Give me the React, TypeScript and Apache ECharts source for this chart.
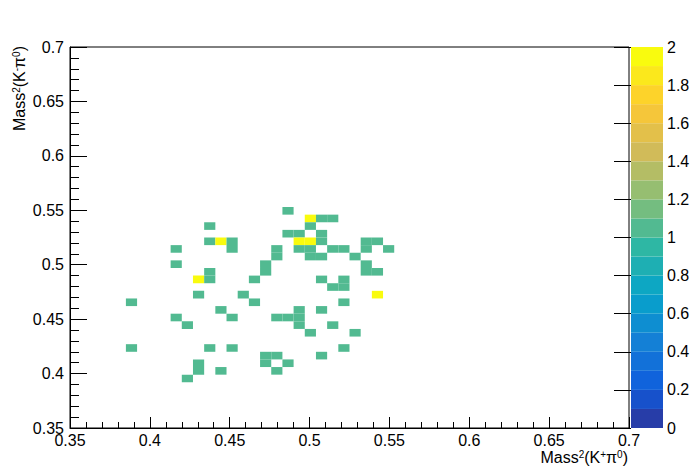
import React, { useEffect, useRef } from "react";
import * as echarts from "echarts";

// Histogram definition (TH2, 50 x 50 bins)
const xMin = 0.35;
const xMax = 0.7;
const yMin = 0.35;
const yMax = 0.7;
const nBinsX = 50;
const nBinsY = 50;
const axisStep = 0.05;

// Colour scale (z axis)
const zMin = 0;
const zMax = 2;
const zStep = 0.2;
const nLevels = 20;

// Filled bins: x bin index, y bin index, content
const binIx = [
  19,
  21, 22, 23,
  12, 21,
  19, 20, 22,
  12, 13, 14, 20, 21, 22, 26, 27,
  9, 14, 18, 20, 21, 23, 24, 26, 28,
  18, 21, 22, 25,
  9, 17, 26,
  12, 17, 26, 27,
  11, 12, 16, 22, 24,
  23, 24,
  11, 15, 27,
  5, 16, 24,
  13, 20, 22,
  9, 14, 18, 19, 20,
  10, 20, 23,
  21, 25,
  5, 12, 14, 24,
  17, 18, 22,
  11, 17, 19,
  11, 13, 18,
  10,
];
const binIy = [
  28,
  27, 27, 27,
  26, 26,
  25, 25, 25,
  24, 24, 24, 24, 24, 24, 24, 24,
  23, 23, 23, 23, 23, 23, 23, 23, 23,
  22, 22, 22, 22,
  21, 21, 21,
  20, 20, 20, 20,
  19, 19, 19, 19, 19,
  18, 18,
  17, 17, 17,
  16, 16, 16,
  15, 15, 15,
  14, 14, 14, 14, 14,
  13, 13, 13,
  12, 12,
  10, 10, 10, 10,
  9, 9, 9,
  8, 8, 8,
  7, 7, 7,
  6,
];
const binCount = [
  1,
  2, 1, 1,
  1, 1,
  1, 1, 1,
  1, 2, 1, 2, 2, 1, 1, 1,
  1, 1, 1, 1, 1, 1, 1, 1, 1,
  1, 1, 1, 1,
  1, 1, 1,
  1, 1, 1, 1,
  2, 1, 1, 1, 1,
  1, 1,
  1, 1, 2,
  1, 1, 1,
  1, 1, 1,
  1, 1, 1, 1, 1,
  1, 1, 1,
  1, 1,
  1, 1, 1, 1,
  1, 1, 1,
  1, 1, 1,
  1, 1, 1,
  1,
];

// ROOT "kBird" palette
const birdStops = [0.0, 0.125, 0.25, 0.375, 0.5, 0.625, 0.75, 0.875, 1.0];
const birdR = [0.2082, 0.0592, 0.078, 0.0232, 0.1802, 0.5301, 0.8186, 0.9956, 0.9764];
const birdG = [0.1664, 0.3599, 0.5041, 0.6419, 0.7178, 0.7492, 0.7328, 0.7862, 0.9832];
const birdB = [0.5293, 0.8684, 0.8385, 0.7914, 0.6425, 0.4662, 0.3499, 0.1968, 0.0539];

function bird(f: number): string {
  let s = 0;
  while (s < birdStops.length - 2 && f > birdStops[s + 1]) s++;
  const t = (f - birdStops[s]) / (birdStops[s + 1] - birdStops[s]);
  const c = (a: number[]) => Math.round(255 * (a[s] + t * (a[s + 1] - a[s])));
  return `rgb(${c(birdR)},${c(birdG)},${c(birdB)})`;
}
function levelColor(level: number): string {
  const idx = Math.min(254, Math.floor(((level + 0.99) * 255) / nLevels));
  return bird(idx / 254);
}
function valueColor(v: number): string {
  const level = Math.floor(0.01 + ((v - zMin) * nLevels) / (zMax - zMin));
  return levelColor(level);
}

const fmt = (v: number) => String(parseFloat(Number(v).toFixed(3)));
const FONT = "Liberation Sans, Arial, Helvetica, sans-serif";

export default function App() {
  const ref = useRef<HTMLDivElement>(null);
  useEffect(() => {
    if (!ref.current) return;
    const chart = echarts.init(ref.current, undefined, { renderer: "svg" });
    const bw = (xMax - xMin) / nBinsX;
    const bh = (yMax - yMin) / nBinsY;
    const cells = binIx.map((ix, k) => [
      xMin + (ix + 0.5) * bw,
      yMin + (binIy[k] + 0.5) * bh,
      binCount[k],
    ]);
    const dz = (zMax - zMin) / nLevels;
    const bands = Array.from({ length: nLevels }, (_, k) => [0.5, zMin + (k + 0.5) * dz, k]);

    const labelStyle = { color: "#000", fontSize: 16, fontFamily: FONT };
    const rich = {
      n: { fontSize: 16, fontFamily: FONT, color: "#000" },
      s: { fontSize: 10, fontFamily: FONT, color: "#000", verticalAlign: "top" as const, padding: [0, 0, 6, 0] },
    };

    chart.setOption({
      animation: false,
      backgroundColor: "#fff",
      grid: [
        { left: 70, top: 47, width: 559, height: 381, show: true, borderColor: "#000", borderWidth: 1, backgroundColor: "transparent" },
        { left: 631, top: 47, width: 32, height: 381, show: false },
      ],
      xAxis: [
        {
          type: "value", gridIndex: 0, min: xMin, max: xMax, interval: axisStep,
          axisLine: { show: true, lineStyle: { color: "#000" } },
          axisTick: { show: true, inside: true, length: 11, lineStyle: { color: "#000" } },
          minorTick: { show: true, splitNumber: 5, length: 6, lineStyle: { color: "#000" } },
          splitLine: { show: false },
          axisLabel: { ...labelStyle, margin: 4, formatter: fmt },
        },
        { type: "value", gridIndex: 1, min: 0, max: 1, show: false },
      ],
      yAxis: [
        {
          type: "value", gridIndex: 0, min: yMin, max: yMax, interval: axisStep,
          axisLine: { show: true, lineStyle: { color: "#000" } },
          axisTick: { show: true, inside: true, length: 17, lineStyle: { color: "#000" } },
          minorTick: { show: true, splitNumber: 5, length: 9, lineStyle: { color: "#000" } },
          splitLine: { show: false },
          axisLabel: { ...labelStyle, margin: 6, formatter: fmt },
        },
        {
          type: "value", gridIndex: 1, min: zMin, max: zMax, interval: zStep, position: "right",
          axisLine: { show: false },
          axisTick: { show: true, inside: true, length: 17, lineStyle: { color: "#000" } },
          splitLine: { show: false },
          axisLabel: { ...labelStyle, margin: 4, formatter: fmt },
        },
      ],
      series: [
        {
          type: "custom",
          xAxisIndex: 0,
          yAxisIndex: 0,
          data: cells,
          encode: { x: 0, y: 1 },
          renderItem: (_p: any, api: any) => {
            const cx = api.value(0), cy = api.value(1), v = api.value(2);
            const a = api.coord([cx - bw / 2, cy + bh / 2]);
            const b = api.coord([cx + bw / 2, cy - bh / 2]);
            return {
              type: "rect",
              shape: { x: a[0], y: a[1], width: b[0] - a[0], height: b[1] - a[1] },
              style: { fill: valueColor(v) },
            };
          },
        },
        {
          type: "custom",
          xAxisIndex: 1,
          yAxisIndex: 1,
          data: bands,
          encode: { x: 0, y: 1 },
          renderItem: (_p: any, api: any) => {
            const cz = api.value(1), k = api.value(2);
            const a = api.coord([0, cz + dz / 2]);
            const b = api.coord([1, cz - dz / 2]);
            return {
              type: "rect",
              shape: { x: a[0], y: a[1], width: b[0] - a[0], height: b[1] - a[1] },
              style: { fill: levelColor(k) },
            };
          },
        },
      ],
      graphic: [
        {
          type: "text",
          right: 70,
          top: 449,
          style: {
            text: "{n|Mass}{s|2}{n|(K}{s|+}{n|π}{s|0}{n|)}",
            rich,
          },
        },
        {
          type: "text",
          x: 11,
          y: 46,
          rotation: Math.PI / 2,
          style: {
            text: "{n|Mass}{s|2}{n|(K}{s|-}{n|π}{s|0}{n|)}",
            rich,
            align: "right",
            verticalAlign: "top",
          },
        },
      ],
    });
    return () => chart.dispose();
  }, []);
  return (
    <div
      ref={ref}
      style={{ position: "fixed", left: 0, top: 0, width: 698, height: 476, background: "#fff" }}
    />
  );
}
